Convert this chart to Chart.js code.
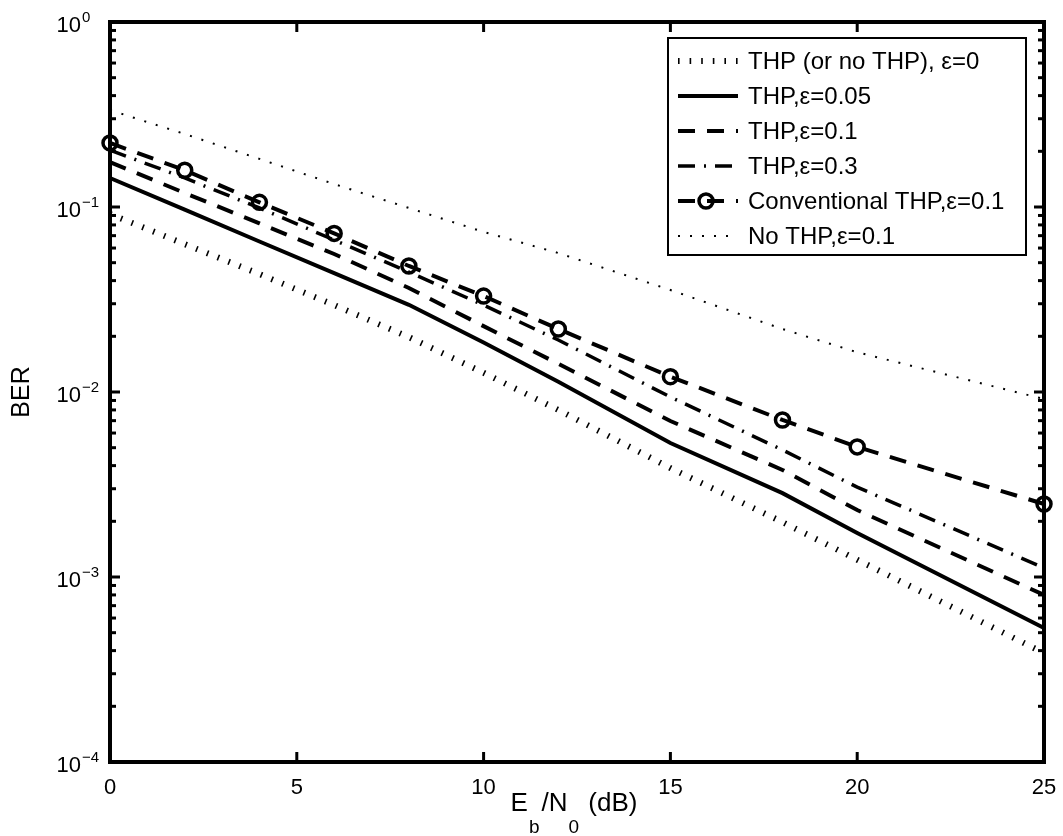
<!DOCTYPE html>
<html>
<head>
<meta charset="utf-8">
<script src="https://cdn.jsdelivr.net/npm/chart.js@4.4.0/dist/chart.umd.min.js"></script>
<style>
  html, body { margin: 0; padding: 0; background: #fff; }
  #wrap { width: 1063px; height: 836px; }
</style>
</head>
<body>
<div id="wrap"><canvas id="berChart" width="1063" height="836"></canvas></div>
<script>
// Eb/N0 points (dB)
const ebn0 = [0, 2, 4, 6, 8, 10, 12, 15, 18, 20, 25];

// BER curves
const berIdeal   = [0.0916, 0.063, 0.0434, 0.0295, 0.0198, 0.0127, 0.0080, 0.00388, 0.00198, 0.00124, 0.000388];
const berEps005  = [0.1435, 0.0967, 0.0651, 0.0439, 0.0296, 0.0185, 0.01137, 0.0053, 0.00284, 0.00173, 0.00053];
const berEps01   = [0.175, 0.119, 0.0816, 0.0557, 0.0365, 0.0227, 0.0142, 0.00697, 0.00379, 0.0023, 0.0008];
const berEps03   = [0.203, 0.1435, 0.0988, 0.0663, 0.0445, 0.0295, 0.0191, 0.0094, 0.00486, 0.00306, 0.00112];
const berConv01  = [0.222, 0.158, 0.106, 0.072, 0.048, 0.033, 0.0219, 0.0121, 0.00706, 0.00505, 0.00248];
const berNoThp01 = [0.334, 0.248, 0.182, 0.133, 0.0988, 0.0733, 0.0564, 0.0356, 0.0219, 0.0164, 0.00916];

const seriesLabels = [
  "THP (or no THP), \u03b5=0",
  "THP,\u03b5=0.05",
  "THP,\u03b5=0.1",
  "THP,\u03b5=0.3",
  "Conventional THP,\u03b5=0.1",
  "No THP,\u03b5=0.1"
];

const xTickValues = [0, 5, 10, 15, 20, 25];
const yTickExponents = [0, -1, -2, -3, -4];

function pts(vals) {
  return ebn0.map((x, i) => ({ x: x, y: vals[i] }));
}

function line(ctx, x1, y1, x2, y2) {
  ctx.beginPath();
  ctx.moveTo(x1, y1);
  ctx.lineTo(x2, y2);
  ctx.stroke();
}

// box, inside ticks (drawn under the curves)
const frameAndTicks = {
  id: "frameAndTicks",
  beforeDatasetsDraw(chart) {
    const { ctx, chartArea: a, scales: { x, y } } = chart;
    ctx.save();
    ctx.strokeStyle = "#000";
    ctx.lineCap = "butt";
    ctx.lineWidth = 4;
    ctx.strokeRect(a.left, a.top, a.right - a.left, a.bottom - a.top);

    ctx.lineWidth = 3;
    xTickValues.forEach(v => {
      const px = x.getPixelForValue(v);
      line(ctx, px, a.bottom, px, a.bottom - 10);
      line(ctx, px, a.top, px, a.top + 10);
    });
    yTickExponents.forEach(e => {
      const py = y.getPixelForValue(Math.pow(10, e));
      line(ctx, a.left, py, a.left + 10, py);
      line(ctx, a.right, py, a.right - 10, py);
    });
    for (let e = -4; e < 0; e++) {
      for (let k = 2; k <= 9; k++) {
        const py = y.getPixelForValue(k * Math.pow(10, e));
        line(ctx, a.left, py, a.left + 6, py);
        line(ctx, a.right, py, a.right - 6, py);
      }
    }
    ctx.restore();
  }
};

// tick labels, axis titles, legend
const labelsAndLegend = {
  id: "labelsAndLegend",
  afterDraw(chart) {
    const { ctx, chartArea: a, scales: { x, y } } = chart;
    const font = "Liberation Sans, Arial, Helvetica, sans-serif";
    ctx.save();
    ctx.fillStyle = "#000";

    // x tick labels
    ctx.font = "22px " + font;
    ctx.textAlign = "center";
    ctx.textBaseline = "alphabetic";
    xTickValues.forEach(v => {
      ctx.fillText(String(v), x.getPixelForValue(v), a.bottom + 32);
    });

    // y tick labels 10^n
    yTickExponents.forEach(e => {
      const py = y.getPixelForValue(Math.pow(10, e));
      ctx.font = "22px " + font;
      ctx.textAlign = "right";
      ctx.fillText("10", 81, py + 10);
      ctx.font = "15px " + font;
      ctx.textAlign = "left";
      ctx.fillText(e === 0 ? "0" : "\u2212" + String(-e), 82, py);
    });

    // x axis title: E_b/N_0 (dB)
    const parts = [
      { t: "E", sub: false }, { t: "b", sub: true }, { t: "/N", sub: false },
      { t: "0", sub: true }, { t: " (dB)", sub: false }
    ];
    let total = 0;
    parts.forEach(p => {
      ctx.font = (p.sub ? "19px " : "26px ") + font;
      p.w = ctx.measureText(p.t).width + (p.sub ? 3 : 0);
      total += p.w;
    });
    let cx = (a.left + a.right) / 2 - total / 2 - 3;
    ctx.textAlign = "left";
    parts.forEach(p => {
      ctx.font = (p.sub ? "19px " : "26px ") + font;
      ctx.fillText(p.t, cx + (p.sub ? 1 : 0), p.sub ? 833 : 811);
      cx += p.w;
    });

    // y axis title
    ctx.save();
    ctx.translate(29, (a.top + a.bottom) / 2);
    ctx.rotate(-Math.PI / 2);
    ctx.font = "25px " + font;
    ctx.textAlign = "center";
    ctx.fillText("BER", 0, 0);
    ctx.restore();

    // legend box
    const lx0 = 668, lx1 = 1026, ly0 = 38, ly1 = 255;
    ctx.fillStyle = "#fff";
    ctx.fillRect(lx0, ly0, lx1 - lx0, ly1 - ly0);
    ctx.strokeStyle = "#000";
    ctx.lineWidth = 2;
    ctx.strokeRect(lx0, ly0, lx1 - lx0, ly1 - ly0);

    const rowY0 = 61, rowStep = 35;
    chart.data.datasets.forEach((ds, i) => {
      const ry = rowY0 + i * rowStep;
      ctx.save();
      ctx.strokeStyle = ds.borderColor;
      ctx.lineWidth = ds.borderWidth;
      ctx.lineCap = "butt";
      ctx.setLineDash(ds.borderDash || []);
      line(ctx, 678, ry, 738, ry);
      if (ds.pointRadius > 0) {
        ctx.setLineDash([]);
        ctx.lineWidth = ds.pointBorderWidth;
        ctx.beginPath();
        ctx.arc(706, ry, ds.pointRadius, 0, Math.PI * 2);
        ctx.stroke();
      }
      ctx.restore();
      ctx.fillStyle = "#000";
      ctx.font = "24px " + font;
      ctx.textAlign = "left";
      ctx.textBaseline = "middle";
      ctx.fillText(seriesLabels[i], 748, ry + 1);
    });
    ctx.restore();
  }
};

const common = {
  borderColor: "#000",
  backgroundColor: "#000",
  fill: false,
  tension: 0,
  pointRadius: 0,
  borderCapStyle: "butt",
  clip: false
};

const ctx = document.getElementById("berChart").getContext("2d");
new Chart(ctx, {
  type: "line",
  data: {
    datasets: [
      Object.assign({}, common, { label: seriesLabels[0], data: pts(berIdeal), borderWidth: 6, borderDash: [1.6, 10] }),
      Object.assign({}, common, { label: seriesLabels[1], data: pts(berEps005), borderWidth: 4 }),
      Object.assign({}, common, { label: seriesLabels[2], data: pts(berEps01), borderWidth: 4, borderDash: [17, 12] }),
      Object.assign({}, common, { label: seriesLabels[3], data: pts(berEps03), borderWidth: 3.5, borderDash: [17, 9, 2, 9] }),
      Object.assign({}, common, {
        label: seriesLabels[4], data: pts(berConv01), borderWidth: 4, borderDash: [17, 12],
        pointRadius: 7, pointBorderWidth: 3.5, pointStyle: "circle",
        pointBackgroundColor: "rgba(0,0,0,0)", pointBorderColor: "#000"
      }),
      Object.assign({}, common, { label: seriesLabels[5], data: pts(berNoThp01), borderWidth: 2, borderDash: [2, 10] })
    ]
  },
  options: {
    responsive: false,
    animation: false,
    devicePixelRatio: 1,
    layout: { padding: { left: 110, top: 22, right: 19, bottom: 74 } },
    scales: {
      x: { type: "linear", min: 0, max: 25, display: false },
      y: { type: "logarithmic", min: 1e-4, max: 1, display: false }
    },
    plugins: {
      legend: { display: false },
      tooltip: { enabled: false }
    }
  },
  plugins: [frameAndTicks, labelsAndLegend]
});
</script>
</body>
</html>
